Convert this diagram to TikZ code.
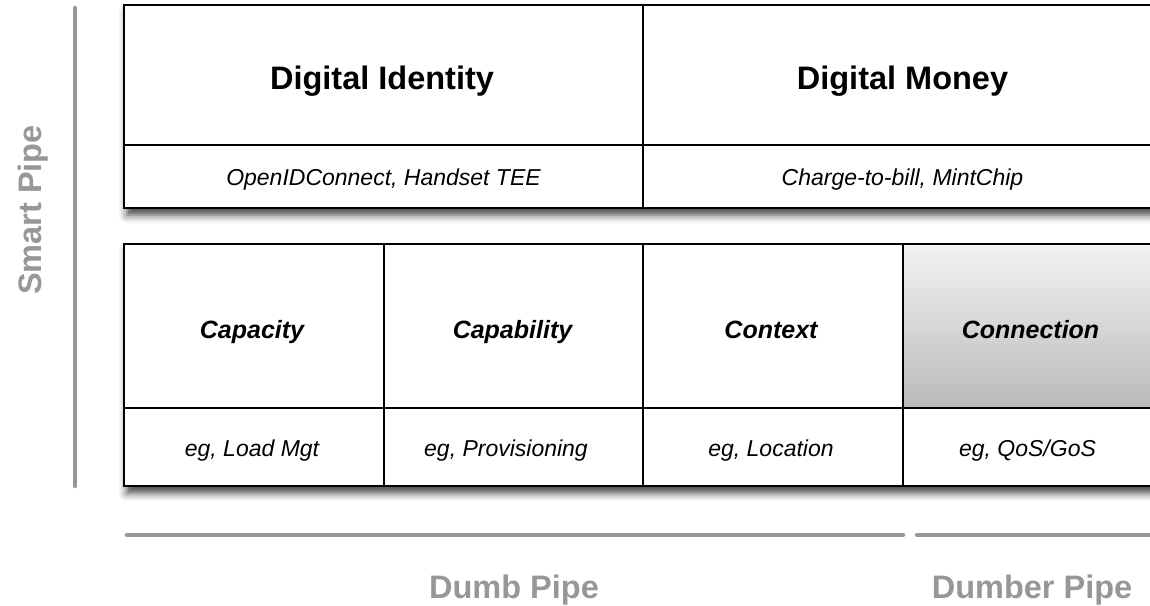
\documentclass[tikz,border=0pt]{standalone}
\usepackage{fontspec}
\setmainfont{Liberation Sans}
\usetikzlibrary{shadows.blur}
\definecolor{pipegray}{HTML}{979797}
\begin{document}
\begin{tikzpicture}[x=1pt,y=-1pt,
  cell/.style={draw=black, line width=1.5pt, fill=white, rectangle, inner sep=0pt, outer sep=0pt},
  outerbox/.style={fill=white, blur shadow={shadow xshift=3pt, shadow yshift=-7pt, shadow blur radius=8pt, shadow opacity=75}},
  title/.style={font=\fontsize{32.5}{38}\selectfont\bfseries, anchor=base, inner sep=0pt},
  sub/.style={font=\fontsize{23}{27}\selectfont\itshape, anchor=base, inner sep=0pt},
  layer/.style={font=\fontsize{25}{29}\selectfont\bfseries\itshape, anchor=base, inner sep=0pt},
  pipelabel/.style={font=\fontsize{32.5}{38}\selectfont\bfseries, text=pipegray, anchor=base, inner sep=0pt},
  pipeline/.style={draw=pipegray, line width=4.5pt, line cap=round}]
\useasboundingbox (0,0) rectangle (1150,605);
\begin{scope}
\clip (0,0) rectangle (1150,605);
% shadows / backgrounds
\path[outerbox] (124,5) rectangle (1162,208);
\path[outerbox] (124,244) rectangle (1162,486);
% top box cells
\node[cell, minimum width=519pt, minimum height=140pt] (di) at (383.5,75) {};
\node[cell, minimum width=519pt, minimum height=140pt] (dm) at (902.5,75) {};
\node[cell, minimum width=519pt, minimum height=63pt] (dis) at (383.5,176.5) {};
\node[cell, minimum width=519pt, minimum height=63pt] (dms) at (902.5,176.5) {};
\node[title] (ditx) at (382,89) {Digital Identity};
\node[title] (dmtx) at (902.5,89) {Digital Money};
\node[sub] (distx) at (383.5,185) {OpenIDConnect, Handset TEE};
\node[sub] (dmstx) at (902.5,185) {Charge-to-bill, MintChip};
% bottom box cells
\node[cell, minimum width=260pt, minimum height=164pt] (cap) at (254,326) {};
\node[cell, minimum width=259pt, minimum height=164pt] (cab) at (513.5,326) {};
\node[cell, minimum width=260pt, minimum height=164pt] (ctx) at (773,326) {};
\node[cell, minimum width=259pt, minimum height=164pt, top color=white!95!black, bottom color=black!27, fill=none] (con) at (1032.5,326) {};
\node[cell, minimum width=260pt, minimum height=78pt] (caps) at (254,447) {};
\node[cell, minimum width=259pt, minimum height=78pt] (cabs) at (513.5,447) {};
\node[cell, minimum width=260pt, minimum height=78pt] (ctxs) at (773,447) {};
\node[cell, minimum width=259pt, minimum height=78pt] (cons) at (1032.5,447) {};
\node[layer] (captx) at (252,338) {Capacity};
\node[layer] (cabtx) at (512.5,338) {Capability};
\node[layer] (ctxtx) at (771,338) {Context};
\node[layer] (contx) at (1030.5,338) {Connection};
\node[sub] (capstx) at (252,456) {eg, Load Mgt};
\node[sub] (cabstx) at (506,456) {eg, Provisioning};
\node[sub] (ctxstx) at (771,456) {eg, Location};
\node[sub] (constx) at (1027.5,456) {eg, QoS/GoS};
% pipe axes
\coordinate (vtop) at (75,8);
\coordinate (vbot) at (75,486);
\draw[pipeline] (vtop) -- (vbot);
\coordinate (h1a) at (127,535);
\coordinate (h1b) at (903,535);
\coordinate (h2a) at (917,535);
\coordinate (h2b) at (1165,535);
\draw[pipeline] (h1a) -- (h1b);
\draw[pipeline] (h2a) -- (h2b);
\node[pipelabel, rotate=90] (smart) at (41,210) {Smart Pipe};
\node[pipelabel] (dumb) at (514,598) {Dumb Pipe};
\node[pipelabel] (dumber) at (1032,598) {Dumber Pipe};
\end{scope}
\end{tikzpicture}
\end{document}
